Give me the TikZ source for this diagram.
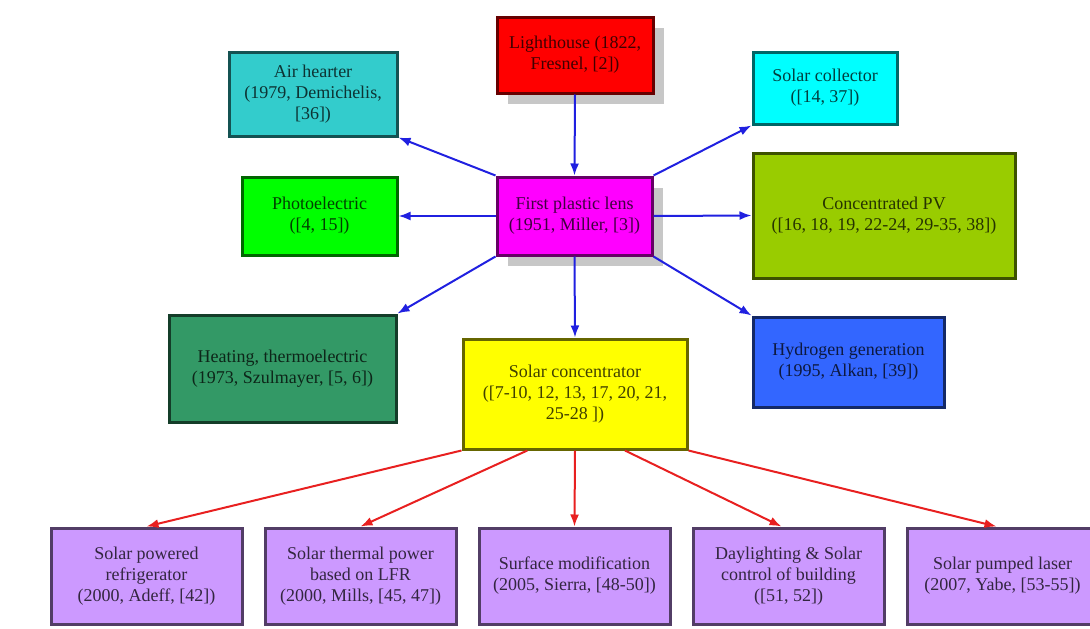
\documentclass[tikz,border=0pt]{standalone}
\usepackage{fontspec}
\setmainfont{Liberation Serif}
\usetikzlibrary{positioning, calc, chains, shadows, arrows.meta}

\definecolor{lhred}{HTML}{FF0000}
\definecolor{airteal}{HTML}{33CCCC}
\definecolor{pegreen}{HTML}{00FF00}
\definecolor{lensmag}{HTML}{FF00FF}
\definecolor{colcyan}{HTML}{00FFFF}
\definecolor{cpvgreen}{HTML}{99CC00}
\definecolor{hydblue}{HTML}{3366FF}
\definecolor{heatgreen}{HTML}{339966}
\definecolor{concyel}{HTML}{FFFF00}
\definecolor{applilac}{HTML}{CC99FF}
\definecolor{linkblue}{HTML}{2020E0}
\definecolor{linkred}{HTML}{E82020}

\begin{document}
\begin{tikzpicture}[x=1pt,y=1pt]
		\tikzstyle{every path}=[line width=2pt]
		
		\tikzstyle{topic}=[draw=#1!40!black,fill=#1,text=#1!25!black,line width=3pt,
		align=center,inner sep=0pt,font=\fontsize{18}{21}\selectfont]
		\tikzstyle{castshadow}=[drop shadow={shadow xshift=11pt,shadow yshift=-11pt,
		fill=black!22,opacity=1}]
		\tikzstyle{blink}=[draw=linkblue,-{Latex[length=12pt,width=9pt]}]
		\tikzstyle{rlink}=[draw=linkred,-{Latex[length=12pt,width=9pt]}]
		
		\useasboundingbox (0,0) rectangle (1090,-629);
		
		%% Origem e lente
		\node [topic=lhred,castshadow,minimum width=156pt,minimum height=76pt]
		at (575,-55) (lighthouse) {Lighthouse (1822,\\Fresnel, [2])};
		\node [topic=lensmag,castshadow,minimum width=155pt,minimum height=78pt]
		at (574.5,-216) (lens) {First plastic lens\\(1951, Miller, [3])};
		
		%% Ramos da lente
		\node [topic=airteal,minimum width=168pt,minimum height=84pt]
		at (313,-94) (air) {Air hearter\\(1979, Demichelis,\\{[36])}};
		\node [topic=pegreen,minimum width=155pt,minimum height=78pt]
		at (319.5,-216) (photo) {Photoelectric\\([4, 15])};
		\node [topic=heatgreen,minimum width=227pt,minimum height=107pt]
		at (282.5,-368.5) (heat) {Heating, thermoelectric\\(1973, Szulmayer, [5, 6])};
		\node [topic=colcyan,minimum width=144pt,minimum height=72pt]
		at (825,-88) (collector) {Solar collector\\([14, 37])};
		\node [topic=cpvgreen,minimum width=262pt,minimum height=125pt]
		at (884,-215.5) (cpv) {Concentrated PV\\([16, 18, 19, 22-24, 29-35, 38])};
		\node [topic=hydblue,minimum width=191pt,minimum height=90pt]
		at (848.5,-362) (hydrogen) {Hydrogen generation\\(1995, Alkan, [39])};
		\node [topic=concyel,minimum width=224pt,minimum height=110pt]
		at (575,-394) (conc) {Solar concentrator\\([7-10, 12, 13, 17, 20, 21,\\25-28 ])};
		
		%% Aplicacoes do concentrador
		\begin{scope}[start chain=1 going right,node distance=20pt]
			\tikzstyle{every node}=[topic=applilac,minimum width=191pt,minimum height=96pt]
			\node [on chain=1] at (146.5,-576) (app1) {Solar powered\\refrigerator\\(2000, Adeff, [42])};
			\node [on chain=1] (app2) {Solar thermal power\\based on LFR\\(2000, Mills, [45, 47])};
			\node [on chain=1] (app3) {Surface modification\\(2005, Sierra, [48-50])};
			\node [on chain=1] (app4) {Daylighting \& Solar\\control of building\\([51, 52])};
			\node [on chain=1] (app5) {Solar pumped laser\\(2007, Yabe, [53-55])};
		\end{scope}
		
		%% Setas azuis
		\draw [blink] (lighthouse.south) -- (lens.north);
		\draw [blink] (lens.north west) -- (air.south east);
		\draw [blink] (lens.west) -- (photo.east);
		\draw [blink] (lens.south west) -- (heat.north east);
		\draw [blink] (lens.south) -- (conc.north);
		\draw [blink] (lens.north east) -- (collector.south west);
		\draw [blink] (lens.east) -- (cpv.west);
		\draw [blink] (lens.south east) -- (hydrogen.north west);
		
		%% Setas vermelhas
		\draw [rlink] (conc.south west) -- (app1.north);
		\draw [rlink] ($(conc.south west)!0.29!(conc.south east)$) -- (app2.north);
		\draw [rlink] (conc.south) -- (app3.north);
		\draw [rlink] ($(conc.south west)!0.72!(conc.south east)$) -- ([xshift=-7pt]app4.north);
		\draw [rlink] (conc.south east) -- ([xshift=-6pt]app5.north);
		
	\end{tikzpicture}
\end{document}
